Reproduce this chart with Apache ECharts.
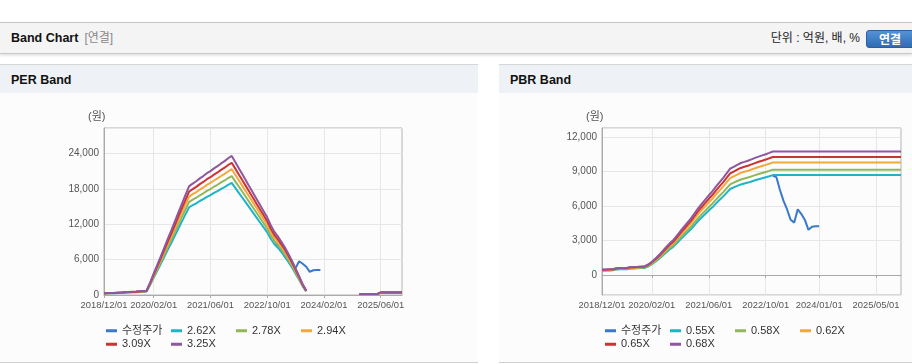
<!DOCTYPE html>
<html><head><meta charset="utf-8">
<script src="https://cdn.jsdelivr.net/npm/echarts@6/dist/echarts.min.js"></script>
<style>
body{margin:0;width:912px;height:364px;overflow:hidden;background:#fff;position:relative;font-family:'Liberation Sans','Noto Sans CJK KR',sans-serif;}
#hdr{position:absolute;left:0;top:22px;width:912px;height:30px;background:#f4f4f4;border-top:1px solid #c4c4c4;border-bottom:1px solid #c8c8c8;box-shadow:0 2px 2px rgba(0,0,0,0.10);}
#hdr .t{position:absolute;left:11px;top:0;line-height:30px;font-size:12.5px;font-weight:bold;color:#111;}
#hdr .t span{font-weight:normal;color:#888;font-size:12px;margin-left:6px;}
#hdr .u{position:absolute;right:52px;top:0;line-height:30px;font-size:12px;color:#222;}
#hdr .b{position:absolute;left:866px;top:7px;width:50px;height:18px;line-height:18px;border-radius:3px;background:linear-gradient(#5592d6,#2e6cb4);border:1px solid #2a5f9e;color:#fff;font-weight:bold;font-size:12px;text-align:center;box-sizing:border-box;padding-right:2px;}
.panel{position:absolute;top:64px;height:297px;background:#fcfcfc;border-top:1px solid #d6d6d6;border-bottom:1px solid #d0d0d0;}
.ptitle{height:28px;line-height:30px;background:#eef2f7;padding-left:11px;font-weight:bold;font-size:12.5px;color:#111;}
#chart{position:absolute;left:0;top:0;width:912px;height:364px;}
</style></head><body>
<div id="hdr"><div class="t">Band Chart<span>[연결]</span></div><div class="u">단위 : 억원, 배, %</div><div class="b">연결</div></div>
<div class="panel" style="left:0;width:478px"><div class="ptitle">PER Band</div></div>
<div class="panel" style="left:499px;width:413px"><div class="ptitle">PBR Band</div></div>
<div id="chart"></div>
<script>
const categories = ["2018/12/01",
"2019/01/01","2019/02/01","2019/03/01","2019/04/01","2019/05/01","2019/06/01","2019/07/01","2019/08/01","2019/09/01","2019/10/01","2019/11/01","2019/12/01",
"2020/01/01","2020/02/01","2020/03/01","2020/04/01","2020/05/01","2020/06/01","2020/07/01","2020/08/01","2020/09/01","2020/10/01","2020/11/01","2020/12/01",
"2021/01/01","2021/02/01","2021/03/01","2021/04/01","2021/05/01","2021/06/01","2021/07/01","2021/08/01","2021/09/01","2021/10/01","2021/11/01","2021/12/01",
"2022/01/01","2022/02/01","2022/03/01","2022/04/01","2022/05/01","2022/06/01","2022/07/01","2022/08/01","2022/09/01","2022/10/01","2022/11/01","2022/12/01",
"2023/01/01","2023/02/01","2023/03/01","2023/04/01","2023/05/01","2023/06/01","2023/07/01","2023/08/01","2023/09/01","2023/10/01","2023/11/01","2023/12/01",
"2024/01/01","2024/02/01","2024/03/01","2024/04/01","2024/05/01","2024/06/01","2024/07/01","2024/08/01","2024/09/01","2024/10/01","2024/11/01","2024/12/01",
"2025/01/01","2025/02/01","2025/03/01","2025/04/01","2025/05/01","2025/06/01","2025/07/01","2025/08/01","2025/09/01","2025/10/01","2025/11/01","2025/12/01"];

const perLabelIdx = [0,14,30,46,62,78];
const pbrLabelIdx = [0,14,30,46,61,77];

const perNames = ["2.62X","2.78X","2.94X","3.09X","3.25X"];
const pbrNames = ["0.55X","0.58X","0.62X","0.65X","0.68X"];
const priceName = "수정주가";

const price = [null,null,null,null,null,null,null,null,null,null,null,null,null,null,null,null,null,null,null,null,null,null,null,null,
null,null,null,null,null,null,null,null,null,null,null,null,null,null,null,null,null,null,null,null,null,null,null,null,
8630,8510,7400,6450,5700,4800,4560,5720,5300,4790,3930,4200,4250,4250,
null,null,null,null,null,null,null,null,null,null,null,null,null,null,null,null,null,null,null,null,null,null,null];

const per262 = [223,275,288,301,328,354,393,419,445,472,511,550,590,1703,2908,4087,5266,6471,7703,8856,10087,11318,12524,13703,14869,15222,15537,15930,16244,16637,16925,17292,17606,17973,18288,18681,18995,18157,17318,16480,15641,14803,13965,13126,12288,11449,10611,9537,8646,8017,7284,6498,5607,4664,3616,2568,1467,603,
null,null,null,null,null,null,null,null,null,null,null,null,null,null,136,136,136,136,136,136,367,367,367,367,367,367,367];
const per278 = [236,292,306,320,348,375,417,445,473,500,542,584,626,1807,3086,4337,5588,6867,8173,9396,10703,12010,13288,14539,15777,16152,16485,16902,17236,17653,17959,18348,18682,19071,19404,19821,20155,19265,18376,17486,16597,15707,14817,13928,13038,12149,11259,10119,9174,8507,7728,6894,5949,4948,3836,2724,1557,639,
null,null,null,null,null,null,null,null,null,null,null,null,null,null,145,145,145,145,145,145,389,389,389,389,389,389,389];
const per294 = [250,309,323,338,368,397,441,470,500,529,573,617,662,1911,3263,4586,5909,7262,8644,9937,11319,12701,14053,15376,16685,17081,17434,17875,18228,18669,18992,19404,19757,20168,20521,20962,21315,20374,19433,18493,17552,16611,15670,14729,13789,12848,11907,10702,9702,8996,8173,7291,6292,5233,4057,2881,1646,676,
null,null,null,null,null,null,null,null,null,null,null,null,null,null,153,153,153,153,153,153,412,412,412,412,412,412,412];
const per309 = [263,324,340,355,386,417,464,494,525,556,603,649,695,2009,3430,4820,6211,7632,9085,10444,11897,13349,14770,16161,17536,17953,18324,18787,19158,19622,19961,20394,20765,21197,21568,22032,22403,21414,20425,19436,18447,17459,16470,15481,14492,13503,12515,11248,10197,9455,8590,7663,6613,5500,4264,3028,1730,711,
null,null,null,null,null,null,null,null,null,null,null,null,null,null,161,161,161,161,161,161,433,433,433,433,433,433,433];
const per325 = [276,341,358,374,406,439,488,520,553,585,634,683,731,2113,3608,5070,6533,8028,9555,10985,12513,14040,15535,16998,18444,18883,19273,19760,20150,20638,20995,21450,21840,22295,22685,23173,23563,22523,21483,20443,19403,18363,17323,16283,15243,14203,13163,11830,10725,9945,9035,8060,6955,5785,4485,3185,1820,748,
null,null,null,null,null,null,null,null,null,null,null,null,null,null,169,169,169,169,169,169,455,455,455,455,455,455,455];

const pbr055 = [380,385,396,407,484,495,501,506,561,572,583,600,616,743,935,1155,1403,1678,1953,2228,2448,2750,3080,3383,3685,3988,4345,4697,5005,5308,5610,5885,6215,6518,6820,7150,7480,7618,7755,7882,7964,8041,8140,8239,8333,8415,8498,8591,
8690,8690,8690,8690,8690,8690,8690,8690,8690,8690,8690,8690,8690,8690,8690,8690,8690,8690,8690,8690,8690,8690,8690,8690,8690,8690,8690,8690,8690,8690,8690,8690,8690,8690,8690,8690,8690];
const pbr058 = [400,406,418,429,510,522,528,534,592,603,615,632,650,783,986,1218,1479,1769,2059,2349,2581,2900,3248,3567,3886,4205,4582,4953,5278,5597,5916,6206,6554,6873,7192,7540,7888,8033,8178,8311,8398,8480,8584,8688,8787,8874,8961,9060,
9164,9164,9164,9164,9164,9164,9164,9164,9164,9164,9164,9164,9164,9164,9164,9164,9164,9164,9164,9164,9164,9164,9164,9164,9164,9164,9164,9164,9164,9164,9164,9164,9164,9164,9164,9164,9164];
const pbr062 = [428,434,446,459,546,558,564,570,632,645,657,676,694,837,1054,1302,1581,1891,2201,2511,2759,3100,3472,3813,4154,4495,4898,5295,5642,5983,6324,6634,7006,7347,7688,8060,8432,8587,8742,8885,8978,9064,9176,9288,9393,9486,9579,9684,
9796,9796,9796,9796,9796,9796,9796,9796,9796,9796,9796,9796,9796,9796,9796,9796,9796,9796,9796,9796,9796,9796,9796,9796,9796,9796,9796,9796,9796,9796,9796,9796,9796,9796,9796,9796,9796];
const pbr065 = [449,455,468,481,572,585,592,598,663,676,689,709,728,878,1105,1365,1658,1983,2308,2633,2893,3250,3640,3998,4355,4713,5135,5551,5915,6273,6630,6955,7345,7703,8060,8450,8840,9003,9165,9315,9412,9503,9620,9737,9848,9945,10043,10153,
10270,10270,10270,10270,10270,10270,10270,10270,10270,10270,10270,10270,10270,10270,10270,10270,10270,10270,10270,10270,10270,10270,10270,10270,10270,10270,10270,10270,10270,10270,10270,10270,10270,10270,10270,10270,10270];
const pbr068 = [469,476,490,503,598,612,619,626,694,707,721,741,762,918,1156,1428,1734,2074,2414,2754,3026,3400,3808,4182,4556,4930,5372,5807,6188,6562,6936,7276,7684,8058,8432,8840,9248,9418,9588,9744,9846,9942,10064,10186,10302,10404,10506,10622,
10744,10744,10744,10744,10744,10744,10744,10744,10744,10744,10744,10744,10744,10744,10744,10744,10744,10744,10744,10744,10744,10744,10744,10744,10744,10744,10744,10744,10744,10744,10744,10744,10744,10744,10744,10744,10744];

const colors = ['#3a78c8','#1eb4c8','#92b65a','#f3a83b','#cc3333','#8f57a0'];
const perBands = [per262, per278, per294, per309, per325];
const pbrBands = [pbr055, pbr058, pbr062, pbr065, pbr068];

const chart = echarts.init(document.getElementById('chart'), null, {renderer:'canvas'});
const FONT = "'Liberation Sans','Noto Sans CJK KR',sans-serif";
const gridLine = '#e6e6e6';

function xAxis(gi, idx){
  const show = (i) => idx.indexOf(i) >= 0;
  return {type:'category', gridIndex:gi, data:categories, boundaryGap:false,
    axisLine:{lineStyle:{color:'#aaaaaa'}},
    axisTick:{show:true, interval:(i)=>show(i), length:3, lineStyle:{color:'#aaaaaa'}},
    axisLabel:{interval:(i)=>show(i), showMinLabel:true, hideOverlap:false, color:'#555', fontSize:9.4, margin:6, fontFamily:"'Liberation Sans',sans-serif"},
    splitLine:{show:true, interval:(i)=>show(i), lineStyle:{color:gridLine}}};
}
function fmt(step){
  return (v) => (Math.abs(v % step) < 1e-6 ? v.toLocaleString('en-US') : '');
}

const series = [];
function addSeries(gi, bands, names){
  series.push({name:priceName, type:'line', xAxisIndex:gi, yAxisIndex:gi, data:price, showSymbol:false, symbol:'none',
    lineStyle:{width:2, color:colors[0]}, itemStyle:{color:colors[0]}, animation:false, z:2});
  bands.forEach((d, k) => {
    series.push({name:names[k], type:'line', xAxisIndex:gi, yAxisIndex:gi, data:d, showSymbol:false, symbol:'none',
      lineStyle:{width:2, color:colors[k+1]}, itemStyle:{color:colors[k+1]}, animation:false, z:3});
  });
}
addSeries(0, perBands, perNames);
addSeries(1, pbrBands, pbrNames);

function legend(left, names){
  return {left:left, top:325, width:262, padding:0, itemGap:2, itemWidth:11, itemHeight:3, icon:'rect',
    data:[priceName].concat(names), selectedMode:false,
    textStyle:{fontSize:11, color:'#333', width:47, lineHeight:11.5, fontFamily:FONT}};
}

chart.setOption({
  animation:false,
  textStyle:{fontFamily:FONT},
  grid:[
    {left:104, top:128, width:298, height:167, show:true, borderColor:'#b4b4b4', borderWidth:1, backgroundColor:'transparent'},
    {left:602, top:128, width:299, height:167, show:true, borderColor:'#b4b4b4', borderWidth:1, backgroundColor:'transparent'}
  ],
  xAxis:[xAxis(0, perLabelIdx), xAxis(1, pbrLabelIdx)],
  yAxis:[
    {type:'value', gridIndex:0, min:0, max:28300, interval:6000,
      axisLine:{show:true, lineStyle:{color:'#aaaaaa'}}, axisTick:{show:false},
      axisLabel:{color:'#555', fontSize:10, margin:5, formatter:fmt(6000)},
      splitLine:{lineStyle:{color:gridLine}}},
    {type:'value', gridIndex:1, min:-1740, max:12790, splitNumber:5,
      axisLine:{show:true, lineStyle:{color:'#aaaaaa'}}, axisTick:{show:false},
      axisLabel:{color:'#555', fontSize:10, margin:5, formatter:fmt(3000)},
      splitLine:{lineStyle:{color:gridLine}}}
  ],
  legend:[legend(106, perNames), legend(605, pbrNames)],
  graphic:[
    {type:'text', left:88, top:111, style:{text:'(원)', fontSize:11, fill:'#555', fontFamily:FONT}},
    {type:'text', left:586, top:111, style:{text:'(원)', fontSize:11, fill:'#555', fontFamily:FONT}}
  ],
  series:series
});
</script>
</body></html>
